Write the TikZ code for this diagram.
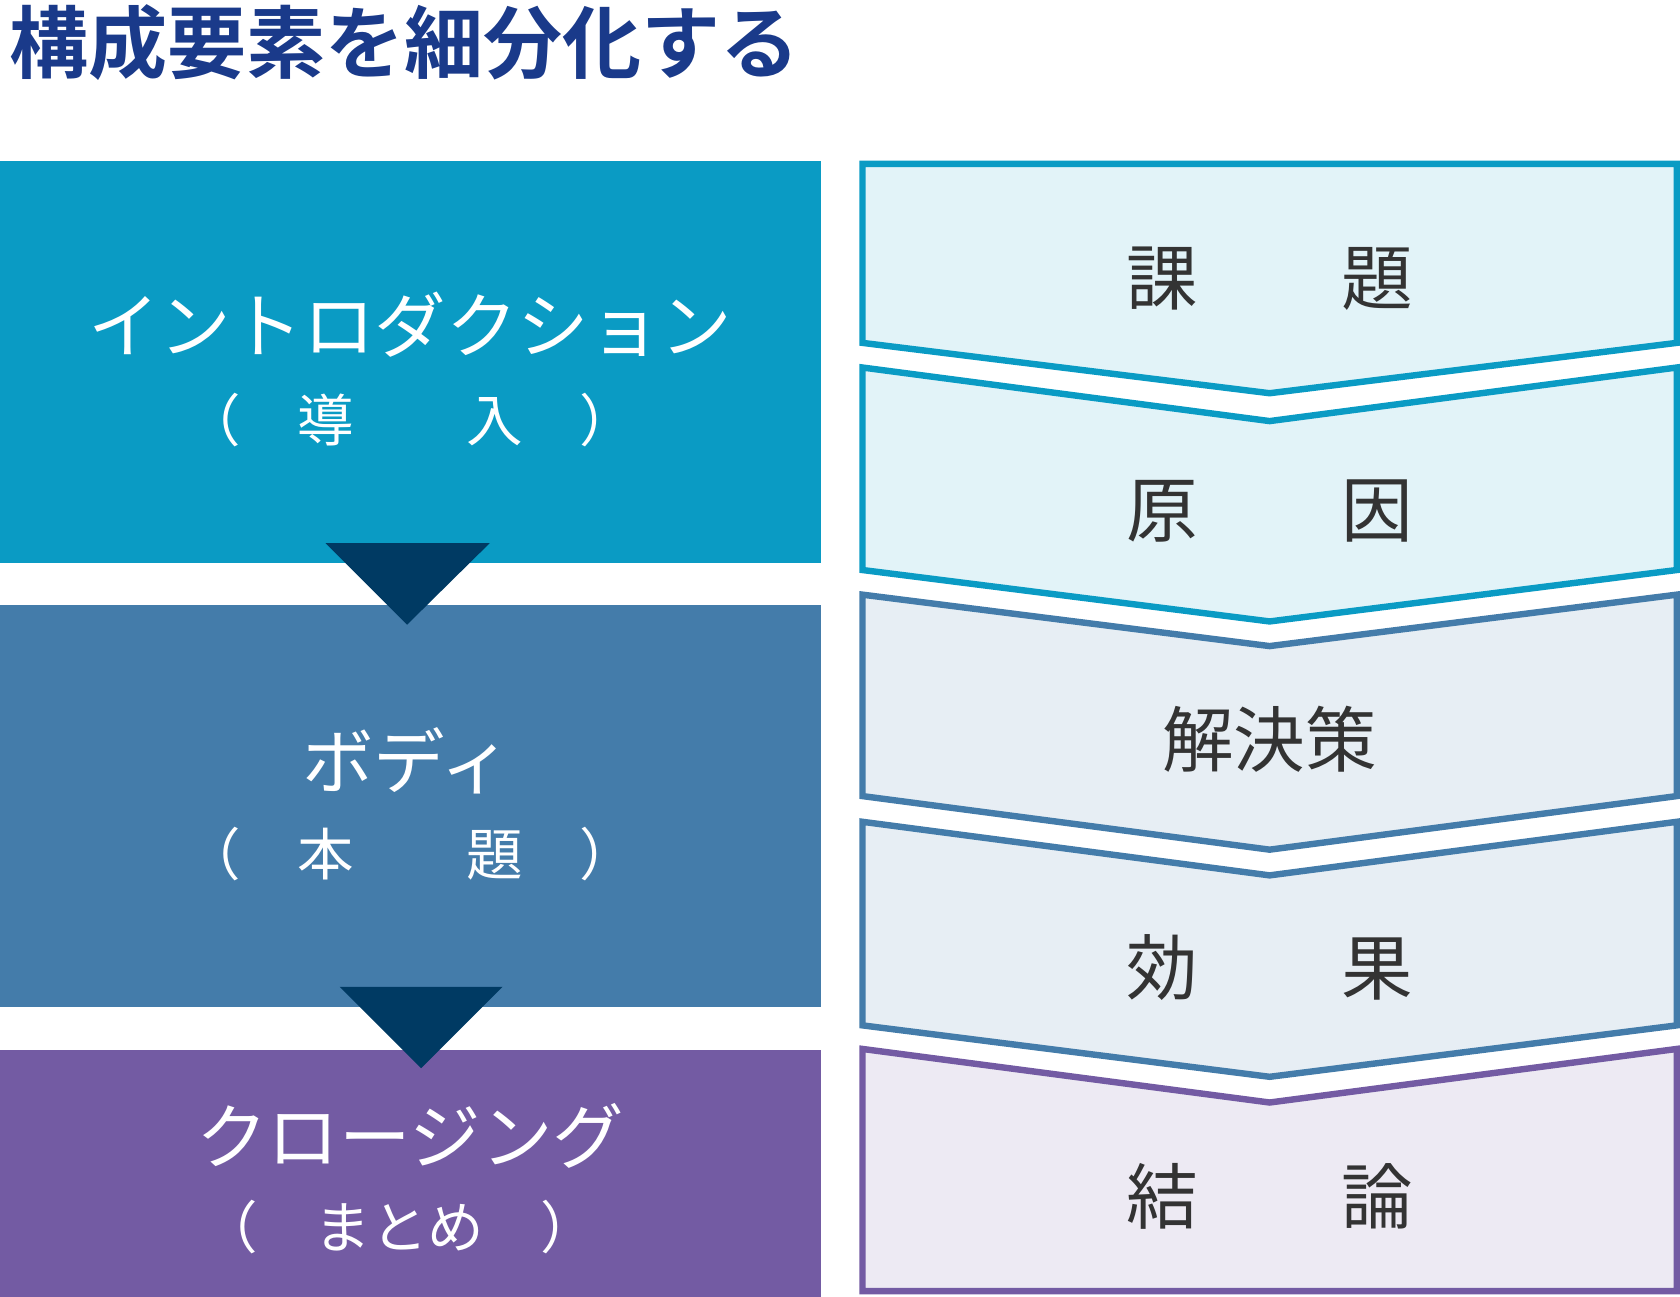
\documentclass[tikz,border=0pt]{standalone}
\usepackage{fontspec}
\newfontfamily\jp{Noto Sans CJK JP}
\newfontfamily\jpbold{Noto Sans CJK JP Bold}
\definecolor{introblue}{HTML}{0A9BC4}
\definecolor{bodyblue}{HTML}{447CAA}
\definecolor{closepurple}{HTML}{735BA3}
\definecolor{arrowdark}{HTML}{003A63}
\definecolor{titleblue}{HTML}{1A3A8A}
\definecolor{textgray}{HTML}{333333}
\begin{document}
\begin{tikzpicture}[x=0.1mm, y=-0.1mm,
    partlabel/.style={text=white, font=\jp\fontsize{19pt}{19pt}\selectfont},
    sublabel/.style={text=white, font=\jp\fontsize{15pt}{15pt}\selectfont},
    steplabel/.style={text=textgray, font=\jp\fontsize{19pt}{19pt}\selectfont},
    chev/.style={line width=0.6mm, line join=miter}]

% Bounding box
\useasboundingbox (0,0) rectangle (1568,1210);

% Title
\node[anchor=west, text=titleblue, font=\jpbold\fontsize{21pt}{21pt}\selectfont] (title) at (-4,40) {構成要素を細分化する};

% Left blocks
\fill[introblue] (0,150) rectangle (766,525);
\fill[bodyblue] (0,565) rectangle (766,940);
\fill[closepurple] (0,980) rectangle (766,1212);

% Down arrows
\fill[arrowdark] (304,507) -- (457,507) -- (380,583) -- cycle;
\fill[arrowdark] (317,921) -- (469,921) -- (393,997) -- cycle;

% Left texts
\node[partlabel] (intro) at (383,303) {イントロダクション};
\node[sublabel] (introsub) at (383,392) {（\quad 導\quad\quad 入\quad ）};
\node[partlabel] (body) at (380,710) {ボディ};
\node[sublabel] (bodysub) at (383,797) {（\quad 本\quad\quad 題\quad ）};
\node[partlabel] (closing) at (383,1060) {クロージング};
\node[sublabel] (closingsub) at (373,1145) {（\quad まとめ\quad ）};

% Right chevrons
\draw[chev, draw=introblue, fill=introblue!12] (805,153) -- (1565,153) -- (1565,320) -- (1185,367) -- (805,320) -- cycle;
\draw[chev, draw=introblue, fill=introblue!12] (805,343) -- (1185,393) -- (1565,343) -- (1565,532) -- (1185,580) -- (805,532) -- cycle;
\draw[chev, draw=bodyblue, fill=bodyblue!13] (805,555) -- (1185,603) -- (1565,555) -- (1565,743) -- (1185,793) -- (805,743) -- cycle;
\draw[chev, draw=bodyblue, fill=bodyblue!13] (805,767) -- (1185,817) -- (1565,767) -- (1565,957) -- (1185,1005) -- (805,957) -- cycle;
\draw[chev, draw=closepurple, fill=closepurple!13] (805,979) -- (1185,1029) -- (1565,979) -- (1565,1205) -- (805,1205) -- cycle;

% Right texts
\node[steplabel] (issue) at (1185,260) {課\qquad 題};
\node[steplabel] (cause) at (1185,477) {原\qquad 因};
\node[steplabel] (solution) at (1185,690) {解決策};
\node[steplabel] (effect) at (1185,903) {効\qquad 果};
\node[steplabel] (conclusion) at (1185,1117) {結\qquad 論};

\end{tikzpicture}
\end{document}
